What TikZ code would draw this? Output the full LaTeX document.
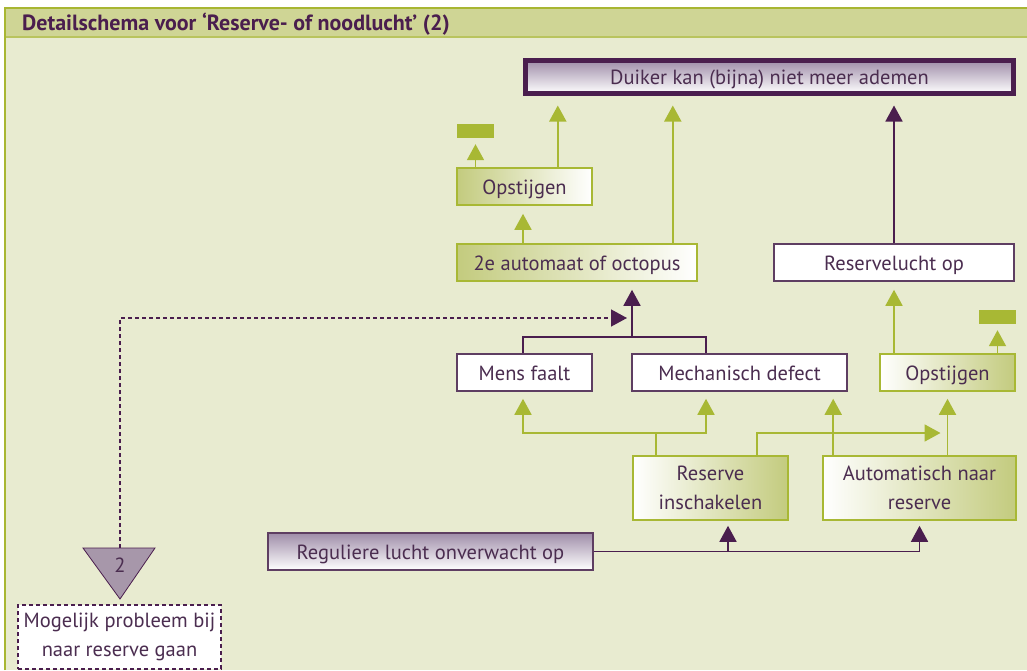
\documentclass[tikz,border=0pt]{standalone}
\usepackage{fontspec}
\setmainfont{PT Sans}
\usetikzlibrary{arrows.meta,calc}
\definecolor{bg}{HTML}{E8EBD0}
\definecolor{hdr}{HTML}{CFD595}
\definecolor{frm}{HTML}{A8B632}
\definecolor{hdrline}{HTML}{B9C45E}
\definecolor{grn}{HTML}{A8B834}
\definecolor{grnfill}{HTML}{C3CB7E}
\definecolor{pur}{HTML}{4A1E4E}
\definecolor{purbox}{HTML}{5E3E62}
\definecolor{txt}{HTML}{4B2D50}
\definecolor{lav}{HTML}{9F8DA9}
\definecolor{trifill}{HTML}{A797AA}
\begin{document}
\begin{tikzpicture}[x=1pt,y=-1pt,
  every node/.style={font=\fontsize{20.5}{28.5}\selectfont, text=txt, inner sep=0pt, align=center, text height=15pt, text depth=0pt},
  multi/.style={text height=, text depth=},
  wbox/.style={draw=purbox, line width=1.6pt, fill=white, minimum height=37pt},
  gboxL/.style={draw=grn, line width=1.6pt, left color=grnfill, right color=white, minimum height=37pt},
  gboxR/.style={draw=grn, line width=1.6pt, left color=white, right color=grnfill, minimum height=37pt},
  pbox/.style={draw=purbox, line width=1.6pt, top color=lav, bottom color=white, minimum height=37pt},
  bar/.style={fill=grn, minimum width=37pt, minimum height=14pt, text height=0pt},
  gline/.style={draw=grn, line width=1.8pt},
  garrow/.style={draw=grn, line width=1.8pt, -{Triangle[width=17pt,length=16pt]}},
  pline/.style={draw=pur, line width=1.6pt},
  parrow/.style={draw=pur, line width=1.6pt, -{Triangle[width=17pt,length=16pt]}},
  darrow/.style={draw=pur, line width=1.4pt, dash pattern=on 4pt off 3pt, -{Triangle[width=17pt,length=16pt]}},
]
\useasboundingbox (0,0) rectangle (1027,670);
% frame
\fill[white] (0,0) rectangle (1027,670);
\fill[bg] (5,8) rectangle (1027,670);
\fill[hdr] (5,8) rectangle (1027,37);
\draw[hdrline, line width=2pt] (5,37) -- (1027,37);
\draw[frm, line width=2.5pt] (5,670) -- (5,8) -- (1027,8);
\node[anchor=base west, font=\bfseries\fontsize{22}{24}\selectfont, text=pur, multi] (title) at (22,30) {Detailschema voor ‘Reserve- of noodlucht’ (2)};

% nodes
\node[pbox, draw=pur, line width=5pt, minimum width=488pt, minimum height=33pt] (duiker) at (769.5,77) {Duiker kan (bijna) niet meer ademen};
\node[bar] (barL) at (475.5,131) {};
\node[gboxL, minimum width=135pt] (opstL) at (524.5,186.5) {Opstijgen};
\node[gboxL, minimum width=240pt] (auto2) at (577,262.5) {2e automaat of octopus};
\node[wbox, minimum width=240pt] (reslucht) at (894,262.5) {Reservelucht op};
\node[wbox, minimum width=135pt] (mens) at (524.5,372.5) {Mens faalt};
\node[wbox, minimum width=215pt] (mech) at (739.5,372.5) {Mechanisch defect};
\node[bar] (barR) at (997.5,317) {};
\node[gboxR, minimum width=135pt] (opstR) at (947.5,372.5) {Opstijgen};
\node[gboxR, multi, minimum width=155pt, minimum height=64pt] (reserve) at (710.5,488) {Reserve\\inschakelen};
\node[gboxR, multi, minimum width=193pt, minimum height=64pt] (automat) at (919.5,488) {Automatisch naar\\reserve};
\node[pbox, minimum width=325pt] (regul) at (430.5,551.5) {Reguliere lucht onverwacht op};
\filldraw[fill=trifill, draw=pur, line width=0.8pt] (83,548) -- (155,548) -- (120,599) -- cycle;
\coordinate (tritop) at (120,548);
\node (tri) at (120,565) {2};
\node[multi, draw=pur, line width=1.3pt, dash pattern=on 4pt off 3pt, fill=white, minimum width=203pt, minimum height=64pt] (mogelijk) at (119.5,637) {Mogelijk probleem bij\\naar reserve gaan};

% connectors top part
\draw[garrow, shorten >=6] (barL.south |- opstL.north) -- (barL.south);
\draw[garrow, shorten >=9.5] ([xshift=-35]opstL.north east) -- ([xshift=-35]opstL.north east |- duiker.south);
\draw[garrow, shorten >=8] ([xshift=-1.5]opstL.south |- auto2.north) -- ([xshift=-1.5]opstL.south);
\draw[garrow, shorten >=9.5] ([xshift=-25]auto2.north east) -- ([xshift=-25]auto2.north east |- duiker.south);
\draw[parrow, shorten >=9.5] (reslucht.north) -- (reslucht.north |- duiker.south);

% mens / mech to auto2
\coordinate (jn) at (632,337);
\draw[pline] ([xshift=-1.5]mens.north) |- (jn) -| ([xshift=-33.5]mech.north);
\draw[parrow, shorten >=8] (jn) -- (jn |- auto2.south);
\draw[darrow, shorten >=5] (tritop) |- ([yshift=19]jn);

% reserve to mens / mech / opstR
\coordinate (jg) at (656,433);
\draw[gline] (reserve.north -| jg) -- (jg);
\draw[garrow, shorten >=7] (jg) -| ([xshift=-1.5]mens.south);
\draw[garrow, shorten >=7] (jg) -| ([xshift=-33.5]mech.south);
\draw[garrow, shorten >=7] ([xshift=46.5]reserve.north) |- (opstR.south |- jg);

% automat
\draw[garrow, shorten >=7] ([xshift=11]automat.north west) -- ([xshift=11]automat.north west |- mech.south);
\draw[garrow, shorten >=7] (opstR.south |- automat.north) -- (opstR.south);

% opstR
\draw[garrow, shorten >=8] (reslucht.south |- opstR.north) -- (reslucht.south);
\draw[garrow, shorten >=6] (barR.south |- opstR.north) -- (barR.south);

% regul
\draw[parrow, shorten >=5] (regul.east) -| (automat.south);
\draw[parrow, shorten >=5] ([xshift=17.5]reserve.south |- regul.east) -- ([xshift=17.5]reserve.south);
\end{tikzpicture}
\end{document}
